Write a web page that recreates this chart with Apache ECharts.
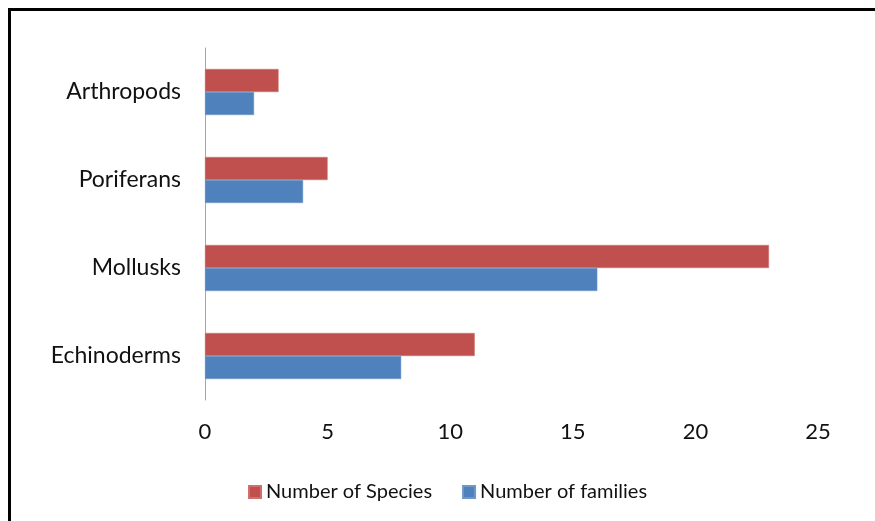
<!DOCTYPE html>
<html><head><meta charset="utf-8">
<script src="https://cdn.jsdelivr.net/npm/echarts@6/dist/echarts.min.js"></script>
<style>html,body{margin:0;padding:0;background:#fff;}#c{width:875px;height:521px;}</style>
</head><body><div id="c"></div>
<script>
const categories = ['Echinoderms', 'Mollusks', 'Poriferans', 'Arthropods'];
const speciesValues = [11, 23, 5, 3];
const familyValues = [8, 16, 4, 2];
const xTicks = [0, 5, 10, 15, 20, 25];

const chart = echarts.init(document.getElementById('c'), null, {renderer: 'canvas'});
chart.setOption({
  animation: false,
  backgroundColor: '#ffffff',
  textStyle: {fontFamily: 'Lato'},
  graphic: [{
    type: 'rect', silent: true, z: 100,
    shape: {x: 9.5, y: 9.5, width: 1000, height: 1000},
    style: {fill: 'none', stroke: '#000', lineWidth: 3}
  }],
  grid: {left: 205, right: 57, top: 48, bottom: 121, containLabel: false},
  legend: {
    data: ['Number of Species', 'Number of families'],
    top: 477, left: 243,
    itemWidth: 12, itemHeight: 12, itemGap: 30,
    icon: 'rect',
    textStyle: {fontSize: 20, color: '#111', fontFamily: 'Lato'}
  },
  xAxis: {
    type: 'value', min: xTicks[0], max: xTicks[xTicks.length - 1], interval: 5,
    axisLine: {show: false}, axisTick: {show: false}, splitLine: {show: false},
    axisLabel: {fontSize: 22, color: '#111', margin: 21, fontFamily: 'Lato'}
  },
  yAxis: {
    type: 'category', data: categories,
    axisLine: {show: true, lineStyle: {color: '#a6a6a6', width: 1}},
    axisTick: {show: false},
    axisLabel: {fontSize: 23, color: '#111', margin: 24, fontFamily: 'Lato'}
  },
  series: [
    {name: 'Number of Species', type: 'bar', data: speciesValues, barWidth: 23, barGap: '0%',
     itemStyle: {color: '#C0504D', borderColor: '#d06f6c', borderWidth: 0.5}},
    {name: 'Number of families', type: 'bar', data: familyValues, barWidth: 23, barGap: '0%',
     itemStyle: {color: '#4F81BD', borderColor: '#6f97c8', borderWidth: 0.5}}
  ]
});
</script></body></html>
